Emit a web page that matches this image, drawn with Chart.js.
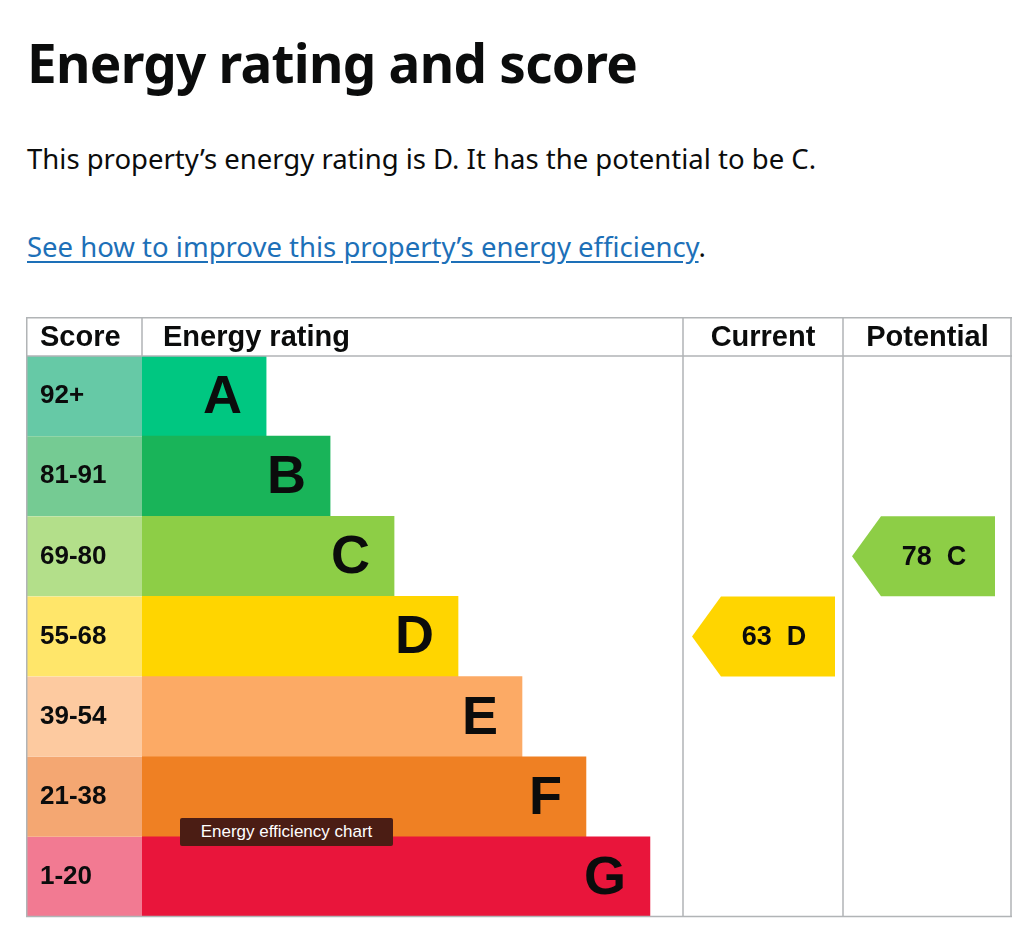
<!DOCTYPE html>
<html>
<head>
<meta charset="utf-8">
<script src="https://cdn.jsdelivr.net/npm/chart.js@4.4.0/dist/chart.umd.min.js"></script>
<style>
  body { margin: 0; background: #fff; font-family: "Noto Sans", Arial, sans-serif; color: #0b0c0c; }
  h1 { position: absolute; left: 27px; top: 26px; margin: 0; font-size: 53px; font-weight: bold; letter-spacing: -0.7px; }
  p.lead { position: absolute; left: 27px; top: 140px; margin: 0; font-size: 27.5px; }
  p.link { position: absolute; left: 27px; top: 228px; margin: 0; font-size: 27.5px; }
  p.link a { color: #1d70b8; text-decoration: underline; text-underline-offset: 4px; }
  #wrap { position: absolute; left: 26px; top: 317px; width: 986px; height: 601px; }
  #tip { position: absolute; left: 180px; top: 818px; width: 213px; height: 28px; background: #4b1d14;
         color: #fff; font-family: "Liberation Sans", Arial; font-size: 17px; line-height: 28px; text-align: center; border-radius: 2px; }
</style>
</head>
<body>
<h1>Energy rating and score</h1>
<p class="lead">This property’s energy rating is D. It has the potential to be C.</p>
<p class="link"><a href="#">See how to improve this property’s energy efficiency</a>.</p>
<div id="wrap"><canvas id="chart"></canvas></div>
<div id="tip">Energy efficiency chart</div>
<script>
// bands, top to bottom
const bands = ["A", "B", "C", "D", "E", "F", "G"];
const scoreRanges = ["92+", "81-91", "69-80", "55-68", "39-54", "21-38", "1-20"];
const barLengths = [1, 2, 3, 4, 5, 6, 7];
const barColors = ["#00c781", "#19b459", "#8dce46", "#ffd500", "#fcaa65", "#ef8023", "#e9153b"];
const scoreColors = ["#66c9a6", "#75cb93", "#b3df8a", "#ffe66a", "#fdcaa0", "#f4a772", "#f27a92"];
const currentScore = 63, currentBand = "D";
const potentialScore = 78, potentialBand = "C";

const XMIN = -0.94, XMAX = 12.66;
const grid = "#b1b4b6";

const tablePlugin = {
  id: "table",
  beforeDatasetsDraw(chart) {
    const ctx = chart.ctx, y = chart.scales.y, area = chart.chartArea;
    ctx.save();
    // score column cells
    bands.forEach((b, i) => {
      const yc = y.getPixelForValue(i);
      ctx.fillStyle = scoreColors[i];
      ctx.fillRect(0, yc - 40, area.left, 80);
      ctx.fillStyle = "#0b0c0c";
      ctx.font = "bold 26px 'Liberation Sans', Arial";
      ctx.textBaseline = "middle";
      ctx.fillText(scoreRanges[i], 14, yc);
    });
    ctx.restore();
  },
  afterDatasetsDraw(chart) {
    const ctx = chart.ctx, x = chart.scales.x, y = chart.scales.y, area = chart.chartArea;
    const W = chart.width;
    const c1 = 657, c2 = 817;
    ctx.save();
    // band letters
    bands.forEach((b, i) => {
      const yc = y.getPixelForValue(i);
      ctx.fillStyle = "#0b0c0c";
      ctx.font = "bold 54px 'Liberation Sans', Arial";
      ctx.textAlign = "right";
      ctx.textBaseline = "middle";
      ctx.fillText(b, x.getPixelForValue(barLengths[i]) - 24, yc + 2);
    });
    // grid lines
    ctx.strokeStyle = grid; ctx.lineWidth = 1.5;
    ctx.beginPath();
    ctx.moveTo(0, 0.75); ctx.lineTo(W, 0.75);
    ctx.moveTo(0, 39); ctx.lineTo(W, 39);
    ctx.moveTo(0, 599.5); ctx.lineTo(W, 599.5);
    [0.75, area.left, c1, c2, W - 1].forEach((px, k) => {
      ctx.moveTo(px, 0); ctx.lineTo(px, k === 1 ? 39 : 600);
    });
    ctx.stroke();
    // headers
    ctx.fillStyle = "#0b0c0c";
    ctx.font = "bold 29px 'Liberation Sans', Arial";
    ctx.textBaseline = "middle";
    ctx.textAlign = "left";
    ctx.fillText("Score", 14, 21);
    ctx.fillText("Energy rating", 137, 21);
    ctx.textAlign = "center";
    ctx.fillText("Current", (c1 + c2) / 2, 21);
    ctx.fillText("Potential", (c2 + W) / 2, 21);
    // arrows
    const arrow = (left, band, score) => {
      const i = bands.indexOf(band);
      const yc = y.getPixelForValue(i);
      ctx.fillStyle = barColors[i];
      ctx.beginPath();
      ctx.moveTo(left, yc);
      ctx.lineTo(left + 29, yc - 40);
      ctx.lineTo(left + 143, yc - 40);
      ctx.lineTo(left + 143, yc + 40);
      ctx.lineTo(left + 29, yc + 40);
      ctx.closePath();
      ctx.fill();
      ctx.fillStyle = "#0b0c0c";
      ctx.font = "bold 27px 'Liberation Sans', Arial";
      ctx.textAlign = "center";
      ctx.fillText(score + "  " + band, left + 82, yc + 1);
    };
    arrow(666, currentBand, currentScore);
    arrow(826, potentialBand, potentialScore);
    ctx.restore();
  }
};

new Chart(document.getElementById("chart"), {
  type: "bar",
  data: {
    labels: bands,
    datasets: [{
      data: barLengths.map(v => [XMIN, v]),
      backgroundColor: barColors,
      borderWidth: 0,
      barPercentage: 1,
      categoryPercentage: 1
    }]
  },
  options: {
    indexAxis: "y",
    responsive: true,
    maintainAspectRatio: false,
    animation: false,
    layout: { padding: { left: 116, top: 39, bottom: 1, right: 0 } },
    plugins: { legend: { display: false }, tooltip: { enabled: false } },
    scales: {
      x: { display: false, min: XMIN, max: XMAX },
      y: { display: false }
    }
  },
  plugins: [tablePlugin]
});
</script>
</body>
</html>
